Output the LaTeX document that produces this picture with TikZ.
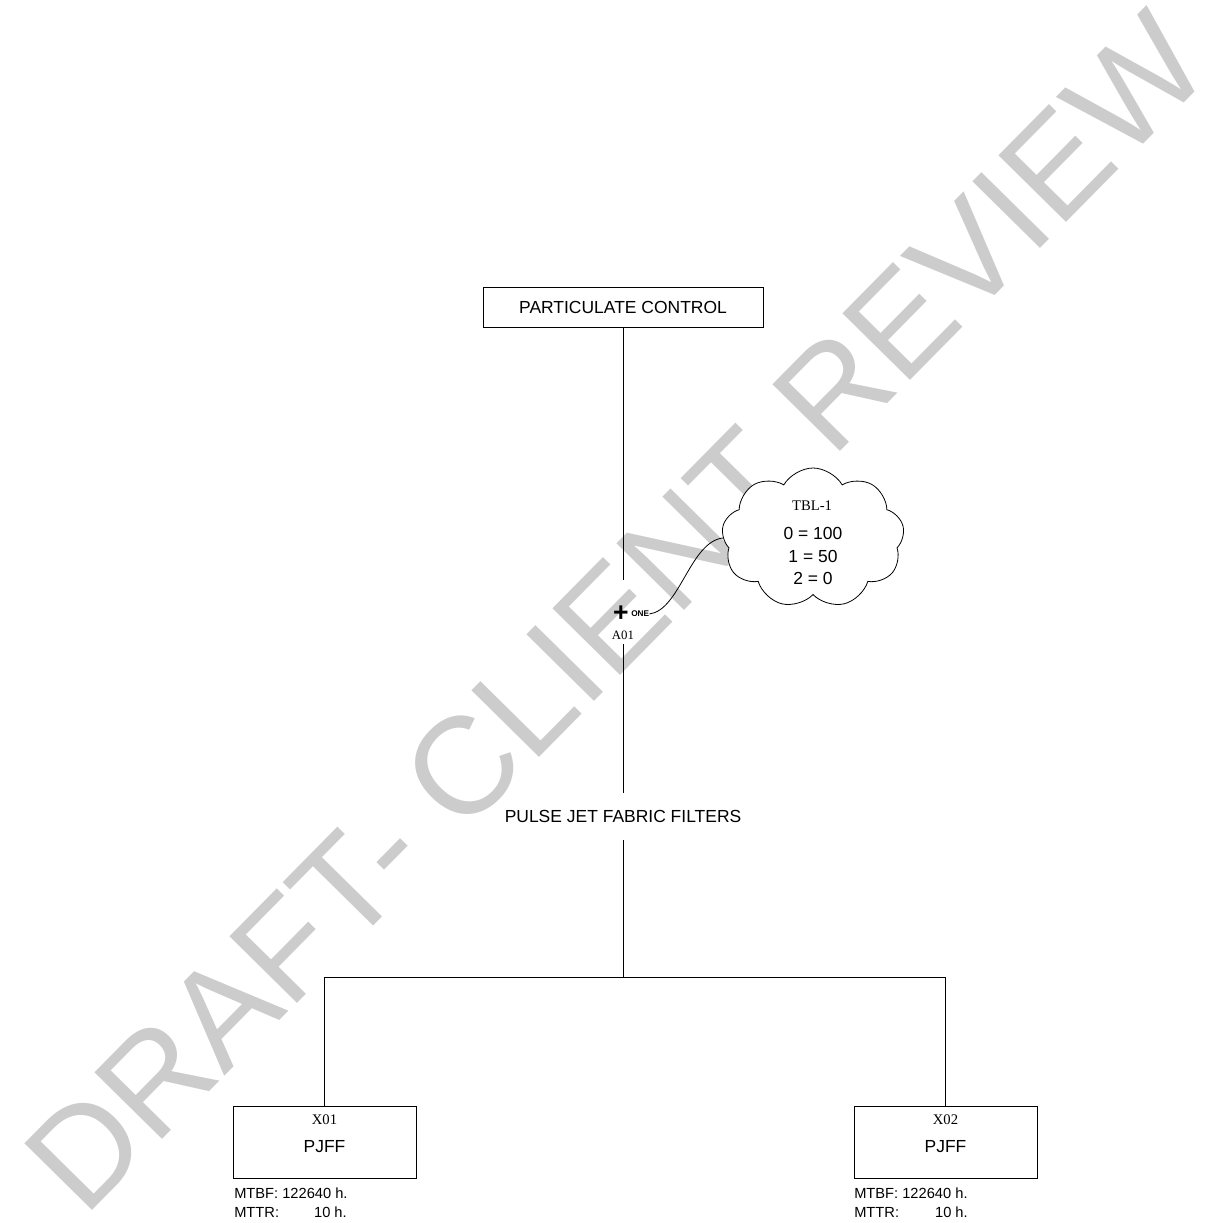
\documentclass[tikz,border=0pt]{standalone}
\usepackage{fontspec}
\setmainfont{Liberation Sans}
\newfontfamily\serifff{Liberation Serif}
\usetikzlibrary{shapes.symbols}
\definecolor{wmgray}{HTML}{CCCCCC}
\tikzset{
  lin/.style={line width=0.75pt, draw=black},
  boxnode/.style={draw=black, fill=white, line width=0.75pt, inner sep=0pt},
  sanstxt/.style={inner sep=0pt, font=\fontsize{13.1}{15}\selectfont},
  smalltxt/.style={inner sep=0pt, font=\fontsize{11}{13}\selectfont},
  seriftxt/.style={inner sep=0pt, font=\serifff\fontsize{11}{13}\selectfont},
}
\begin{document}
\begin{tikzpicture}[x=0.75pt,y=-0.75pt]
\useasboundingbox (0,0) rectangle (1208,1223);
% watermark
\node[inner sep=0pt, rotate=45.4, text=wmgray, font=\fontsize{103.5}{104}\selectfont] (wm) at (616,612) {DRAFT- CLIENT REVIEW};
% top box
\node[boxnode, minimum width=210pt, minimum height=30pt] (pc) at (623,307) {};
\node[sanstxt] (pctxt) at (623,307) {PARTICULATE CONTROL};
\coordinate (g1) at (623,580);
\draw[lin] (pc.south) -- (g1);
% gate
\node[inner sep=0pt, font=\bfseries\fontsize{20}{20}\selectfont] (gate) at (621,614) {+};
\node[inner sep=0pt, anchor=west, font=\bfseries\fontsize{6.2}{7}\selectfont] (one) at (631,614) {ONE};
\node[inner sep=0pt, inner ysep=3.5pt, font=\serifff\fontsize{9.6}{11}\selectfont] (a01) at (623,635) {A01};
% cloud
\node[cloud, draw=black, fill=white, line width=0.6pt, cloud puffs=9, cloud puff arc=120, aspect=1.3, minimum width=137pt, minimum height=105pt, inner sep=0pt] (tbl) at (813,538) {};
\node[seriftxt] (tbltitle) at (812,506) {TBL-1};
\node[sanstxt] (t0) at (813,533) {0 = 100};
\node[sanstxt] (t1) at (813,556) {1 = 50};
\node[sanstxt] (t2) at (813,578) {2 = 0};
\draw[line width=0.6pt] (one.east) .. controls (680,610) and (690,542) .. (tbl.west);
% pulse jet
\node[sanstxt, minimum height=35.25pt] (pjf) at (623,816.5) {PULSE JET FABRIC FILTERS};
\draw[lin] (a01.south) -- (pjf.north);
\coordinate (j) at (623,977);
\draw[lin] (pjf.south) -- (j);
% boxes
\node[boxnode, minimum width=137.25pt, minimum height=54pt] (b1) at (324.5,1142) {};
\node[boxnode, minimum width=137.25pt, minimum height=54pt] (b2) at (945.5,1142) {};
\draw[lin] (b1.north) |- (j) -| (b2.north);
\node[seriftxt] (x01) at (324.5,1120) {X01};
\node[sanstxt] (p1) at (324.5,1147) {PJFF};
\node[seriftxt] (x02) at (945.5,1120) {X02};
\node[sanstxt] (p2) at (945.5,1147) {PJFF};
% data
\node[smalltxt, anchor=west] (mtbf1) at (234,1193) {MTBF: 122640 h.};
\node[smalltxt, anchor=west] (mttr1) at (234,1212) {MTTR:};
\node[smalltxt, anchor=east] (mttrv1) at (347,1212) {10 h.};
\node[smalltxt, anchor=west] (mtbf2) at (854,1193) {MTBF: 122640 h.};
\node[smalltxt, anchor=west] (mttr2) at (854,1212) {MTTR:};
\node[smalltxt, anchor=east] (mttrv2) at (968,1212) {10 h.};
\end{tikzpicture}
\end{document}
